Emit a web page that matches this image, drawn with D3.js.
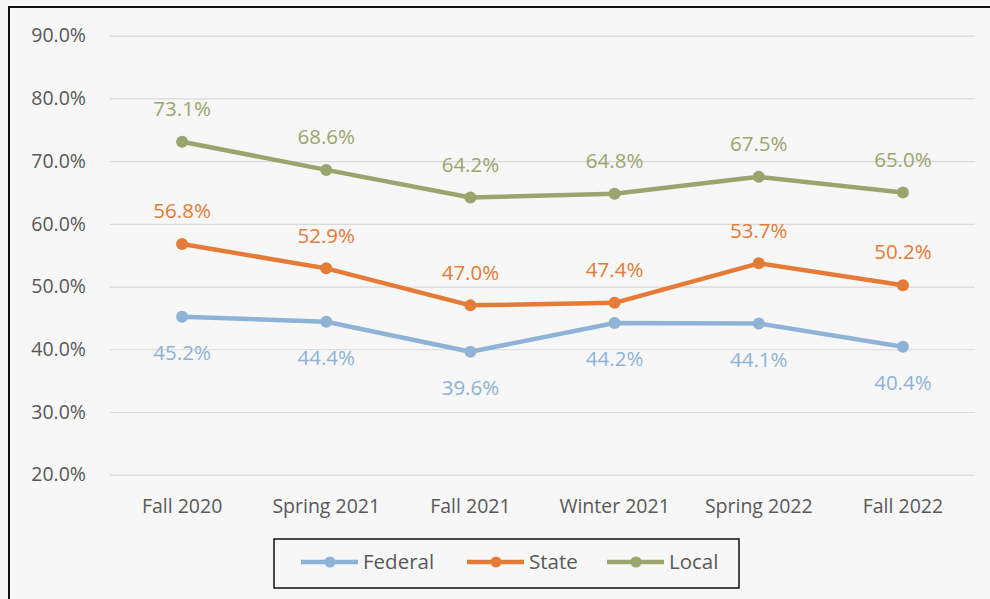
<!DOCTYPE html>
<html>
<head>
<meta charset="utf-8">
<script src="https://cdn.jsdelivr.net/npm/d3@7"></script>
<style>
  html, body { margin: 0; padding: 0; background: #ffffff; }
  svg { display: block; }
  text { font-family: "Open Sans", "Noto Sans", sans-serif; }
</style>
</head>
<body>
<svg id="chart" width="990" height="599"></svg>
<script>
const categories = ["Fall 2020", "Spring 2021", "Fall 2021", "Winter 2021", "Spring 2022", "Fall 2022"];
const federal = [45.2, 44.4, 39.6, 44.2, 44.1, 40.4];
const state   = [56.8, 52.9, 47.0, 47.4, 53.7, 50.2];
const local   = [73.1, 68.6, 64.2, 64.8, 67.5, 65.0];
const yTicks  = [20, 30, 40, 50, 60, 70, 80, 90];
const seriesNames = ["Federal", "State", "Local"];

(function () {
const colors = { Federal: "#8eb3d7", State: "#e47b36", Local: "#9aa56d" };
const series = [
  { name: "Federal", values: federal, labelPos: "below" },
  { name: "State", values: state, labelPos: "above" },
  { name: "Local", values: local, labelPos: "above" }
];

const svg = d3.select("#chart");
const W = 990, H = 599;

svg.append("rect").attr("x", 0).attr("y", 0).attr("width", W).attr("height", H).attr("fill", "#f7f7f7");
svg.append("path").attr("d", `M9,${H} L9,7 L${W},7`).attr("fill", "none").attr("stroke", "#111").attr("stroke-width", 2);

const mLeft = 110, mRight = 975, mTop = 35.7, mBottom = 474.7;

const x = d3.scaleBand().domain(categories).range([mLeft, mRight]);
const y = d3.scaleLinear().domain([20, 90]).range([mBottom, mTop]);

const grid = svg.append("g")
  .attr("transform", `translate(${mLeft},0)`)
  .call(d3.axisLeft(y).tickValues(yTicks).tickSize(-(mRight - mLeft)).tickFormat(""));
grid.select(".domain").remove();
grid.selectAll(".tick line").attr("stroke", "#d9d9d9").attr("stroke-width", 1.2);

const yAxis = svg.append("g")
  .attr("transform", `translate(${mLeft - 21},0)`)
  .call(d3.axisLeft(y).tickValues(yTicks).tickSize(0).tickFormat(d => d.toFixed(1) + "%"));
yAxis.select(".domain").remove();
yAxis.selectAll("text").attr("fill", "#595959").attr("font-size", 19.5).attr("dx", 0);

const xAxis = svg.append("g")
  .attr("transform", `translate(0,${mBottom + 21})`)
  .call(d3.axisBottom(x).tickSize(0));
xAxis.select(".domain").remove();
xAxis.selectAll("text").attr("fill", "#595959").attr("font-size", 19.5);

const line = d3.line().x((d, i) => x(categories[i]) + x.bandwidth() / 2).y(d => y(d));

series.forEach(s => {
  const c = colors[s.name];
  svg.append("path").datum(s.values)
    .attr("d", line).attr("fill", "none").attr("stroke", c)
    .attr("stroke-width", 4.5).attr("stroke-linejoin", "round");
  svg.selectAll(null).data(s.values).enter().append("circle")
    .attr("cx", (d, i) => x(categories[i]) + x.bandwidth() / 2)
    .attr("cy", d => y(d))
    .attr("r", 6).attr("fill", c);
  svg.selectAll(null).data(s.values).enter().append("text")
    .attr("x", (d, i) => x(categories[i]) + x.bandwidth() / 2)
    .attr("y", d => s.labelPos === "above" ? y(d) - 33 : y(d) + 36)
    .attr("dy", "0.35em")
    .attr("text-anchor", "middle")
    .attr("font-size", 20.5)
    .attr("fill", c)
    .text(d => d.toFixed(1) + "%");
});

const lg = svg.append("g");
lg.append("rect").attr("x", 274).attr("y", 539).attr("width", 465).attr("height", 49)
  .attr("fill", "#f7f7f7").attr("stroke", "#111").attr("stroke-width", 1.5);
const legendX = [301, 467, 607];
seriesNames.forEach((n, i) => {
  const c = colors[n];
  const lx = legendX[i];
  lg.append("line").attr("x1", lx).attr("x2", lx + 57).attr("y1", 562).attr("y2", 562)
    .attr("stroke", c).attr("stroke-width", 4.5);
  lg.append("circle").attr("cx", lx + 29).attr("cy", 562).attr("r", 5.5).attr("fill", c);
  lg.append("text").attr("x", lx + 62).attr("y", 562).attr("dy", "0.35em")
    .attr("font-size", 20.5).attr("fill", "#595959").text(n);
});
})();
</script>
</body>
</html>
